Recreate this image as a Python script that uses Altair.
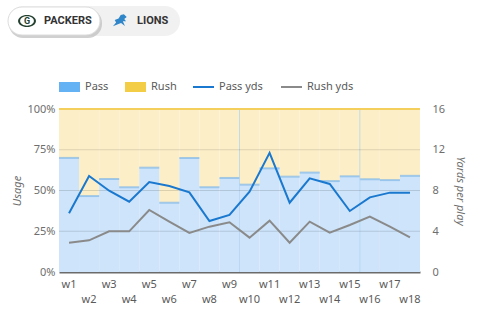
import altair as alt
import pandas as pd

weeks = ["w1", "w2", "w3", "w4", "w5", "w6", "w7", "w8", "w9",
         "w10", "w11", "w12", "w13", "w14", "w15", "w16", "w17", "w18"]
pass_share = [0.70, 0.466, 0.57, 0.52, 0.64, 0.425, 0.70, 0.52, 0.577,
              0.536, 0.636, 0.585, 0.61, 0.558, 0.587, 0.569, 0.564, 0.59]
pass_yds = [5.76, 9.42, 7.98, 6.9, 8.83, 8.44, 7.82, 5.0, 5.6,
            7.88, 11.7, 6.8, 9.2, 8.64, 5.99, 7.33, 7.79, 7.79]
rush_yds = [2.88, 3.11, 3.99, 3.99, 6.09, 4.94, 3.83, 4.45, 4.88,
            3.37, 5.04, 2.88, 4.94, 3.86, 4.61, 5.43, 4.45, 3.4]
marker_weeks = ["w10", "w16"]
usage_ticks = [0, 0.25, 0.5, 0.75, 1]
grid_vals = [0.25, 0.5, 0.75]
ypp_ticks = [0, 4, 8, 12, 16]

FONT = "Noto Sans"
W, H = 361, 163

df = pd.DataFrame({
    "week": weeks,
    "pass": pass_share,
    "pass_yds": pass_yds,
    "rush_yds": rush_yds,
    "row": [i % 2 for i in range(len(weeks))],
})
one = pd.DataFrame({"a": [0]})

xscale = alt.Scale(paddingInner=0, paddingOuter=0)
xaxis = alt.Axis(labels=False, ticks=False, domain=True, domainColor="#6b6b6b",
                 domainWidth=2, grid=False, title=None)
xenc = alt.X("week:N", sort=weeks, scale=xscale, axis=xaxis)
ysc = alt.Scale(domain=[0, 1], nice=False)
yaxis = alt.Axis(values=usage_ticks, format="%", grid=False, domain=False, ticks=False,
                 labelColor="#6e6e6e", labelFontSize=11, labelFont=FONT, labelPadding=4,
                 title="Usage", titleFontStyle="italic", titleFontWeight="normal",
                 titleColor="#6e6e6e", titleFontSize=11, titleFont=FONT, titlePadding=4)
base = alt.Chart(df)

rush_bar = base.mark_bar(color="#fcefc8").encode(
    x=xenc,
    y=alt.Y("pass:Q", scale=ysc, axis=yaxis),
    y2=alt.Y2Datum(1),
)
pass_bar = base.mark_bar(color="#cde4fa").encode(
    x=xenc,
    y=alt.Y("pass:Q", scale=ysc, axis=yaxis),
)
top_tick = base.mark_tick(color="#82b8e8", thickness=2, size=W / 18).encode(
    x=xenc, y=alt.Y("pass:Q", scale=ysc, axis=yaxis))
vrules = alt.Chart(pd.DataFrame({"week": marker_weeks})).mark_rule(
    color="#a9d0f2", strokeWidth=1, opacity=0.7).encode(
    x=alt.X("week:N", sort=weeks, scale=xscale, axis=xaxis, bandPosition=0))
grid = alt.Chart(pd.DataFrame({"v": grid_vals})).mark_rule(
    color="#000000", opacity=0.13, strokeWidth=1).encode(
    y=alt.Y("v:Q", scale=ysc, axis=yaxis))
top_rule = alt.Chart(one).mark_rule(color="#f4cf5c", strokeWidth=2).encode(
    y=alt.YDatum(1, scale=ysc, axis=yaxis))

lab_odd = base.transform_filter("datum.row == 0").mark_text(
    fontSize=11, color="#5a5a5a", font=FONT, baseline="middle").encode(
    x=alt.X("week:N", sort=weeks, scale=xscale, axis=xaxis), y=alt.value(H + 13), text="week:N")
lab_even = base.transform_filter("datum.row == 1").mark_text(
    fontSize=11, color="#5a5a5a", font=FONT, baseline="middle").encode(
    x=alt.X("week:N", sort=weeks, scale=xscale, axis=xaxis), y=alt.value(H + 28), text="week:N")

# tabs and legend decorations
def rect(x, x2, y, y2, color, radius=0, **kw):
    return alt.Chart(one).mark_rect(color=color, cornerRadius=radius, **kw).encode(
        x=alt.value(x), x2=alt.value(x2), y=alt.value(y), y2=alt.value(y2))

def txt(x, y, s, size=11, color="#5a5a5a", weight="normal", align="left", font=FONT):
    return alt.Chart(one).mark_text(text=s, fontSize=size, color=color, fontWeight=weight,
                                    align=align, baseline="middle", font=font).encode(
        x=alt.value(x), y=alt.value(y))

def sym(x, y, shape, size, color, **kw):
    return alt.Chart(one).mark_point(shape=shape, size=size, filled=True, color=color,
                                     opacity=1, **kw).encode(x=alt.value(x), y=alt.value(y))

ellipse = "M-1,0A1,0.68,0,1,1,1,0A1,0.68,0,1,1,-1,0Z"
lion = ("M-1,0.75L-0.55,0.2L-0.75,-0.15L-0.2,-0.35L0.1,-0.85L0.55,-0.95L0.95,-0.55"
        "L0.6,-0.3L0.85,0.05L0.4,0.05L0.7,0.7L0.15,0.3L-0.3,0.45Z")

deco = [
    rect(-51, 121, -103, -73, "#f1f1f1", 15),
    rect(-50, 43, -100, -71, "#bcbcbc", 14, opacity=0.7),
    rect(-51, 41, -102, -74, "#ffffff", 14, stroke="#dddddd", strokeWidth=1),
    sym(-32, -88, ellipse, 320, "#23402f"),
    sym(-32, -88, ellipse, 190, "#ffffff"),
    txt(-32, -88, "G", size=9, color="#23402f", weight="bold", align="center", font="Roboto"),
    txt(-15, -88, "PACKERS", size=11, color="#333333", weight="bold", font="Roboto"),
    sym(61, -88, lion, 200, "#2f86c8"),
    txt(78, -88, "LIONS", size=11, color="#333333", weight="bold", font="Roboto"),
    rect(0, 21, -27, -17, "#64b2f4"),
    txt(26, -22, "Pass"),
    rect(66, 87, -27, -17, "#f3cd45"),
    txt(92, -22, "Rush"),
    rect(134, 155, -23, -21, "#1a78cf"),
    txt(160, -22, "Pass yds"),
    rect(222, 243, -23, -21, "#8a8a8a"),
    txt(248, -22, "Rush yds"),
]

left = alt.layer(rush_bar, pass_bar, top_tick, vrules, grid, top_rule, lab_odd, lab_even, *deco)

ysc2 = alt.Scale(domain=[0, 16], nice=False)
yaxis2 = alt.Axis(orient="right", values=ypp_ticks, grid=False, domain=False, ticks=False,
                  labelColor="#6e6e6e", labelFontSize=11, labelFont=FONT, labelPadding=12,
                  title="Yards per play", titleFontStyle="italic", titleFontWeight="normal",
                  titleColor="#6e6e6e", titleFontSize=11, titleFont=FONT, titlePadding=10)
pass_line = base.mark_line(color="#1a78cf", strokeWidth=2).encode(
    x=xenc, y=alt.Y("pass_yds:Q", scale=ysc2, axis=yaxis2))
rush_line = base.mark_line(color="#8a8a8a", strokeWidth=2).encode(
    x=xenc, y=alt.Y("rush_yds:Q", scale=ysc2, axis=yaxis2))
right = alt.layer(pass_line, rush_line)

chart = alt.layer(left, right).resolve_scale(y="independent").properties(
    width=W, height=H,
    autosize=alt.AutoSizeParams(type="none"),
    padding={"left": 59, "top": 109, "right": 58, "bottom": 52},
    background="#ffffff",
).configure_view(stroke=None)

chart.save("out.html", embed_options={"renderer": "svg", "actions": False})
